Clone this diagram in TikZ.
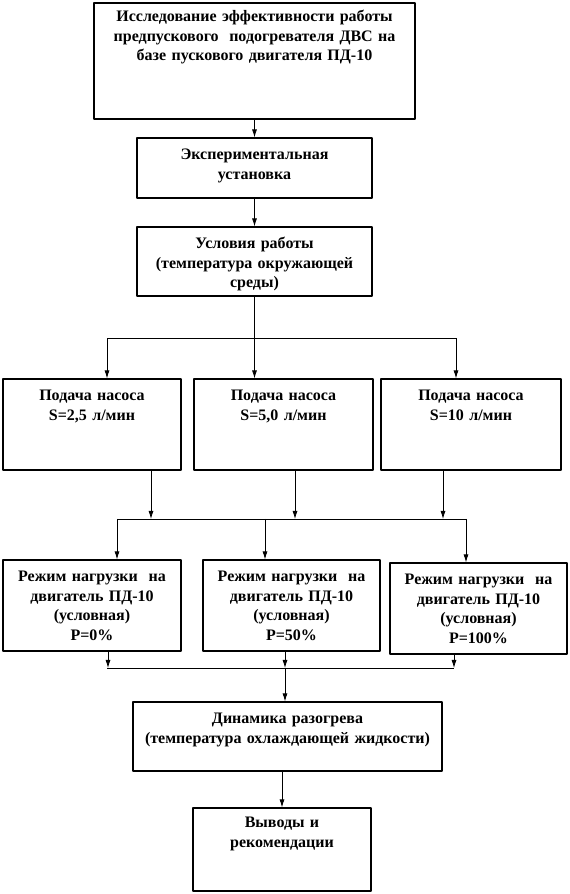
\documentclass[tikz,border=0pt]{standalone}
\usepackage{fontspec}
\setmainfont{Liberation Serif}
\usetikzlibrary{arrows.meta}
\begin{document}
\begin{tikzpicture}[>={Latex[length=8bp,width=5bp]},line join=bevel,
  box/.style={draw,line width=1.1bp,inner sep=0bp,align=center,text height=22bp,
    font=\fontsize{16bp}{19.5bp}\selectfont\bfseries},
  link/.style={black,line width=0.8bp}]
\useasboundingbox (0bp,0bp) rectangle (570bp,894bp);
%% boxes
\node (node_0) at (254.5bp,833bp) [box,text width=321bp,text height=19bp,text depth=97bp] {Исследование эффективности работы\\предпускового~ подогревателя ДВС на\\базе пускового двигателя ПД-10};
  \node (node_1) at (254.5bp,726bp) [box,text width=235bp,text depth=38bp] {Экспериментальная\\установка};
  \node (node_2) at (254.5bp,632.5bp) [box,text width=235bp,text depth=47bp] {Условия работы\\(температура окружающей\\среды)};
  \node (node_3) at (92bp,469.5bp) [box,text width=178bp,text depth=69bp] {Подача насоса\\S=2,5 л/мин};
  \node (node_4) at (283.5bp,469.5bp) [box,text width=179bp,text depth=69bp] {Подача насоса\\S=5,0 л/мин};
  \node (node_5) at (471bp,469.5bp) [box,text width=180bp,text depth=69bp] {Подача насоса\\S=10 л/мин};
  \node (node_6) at (92bp,288.5bp) [box,text width=178bp,text depth=69bp] {Режим нагрузки~ на\\двигатель ПД-10\\(условная)\\P=0\%};
  \node (node_7) at (291.5bp,288.5bp) [box,text width=177bp,text depth=69bp] {Режим нагрузки~ на\\двигатель ПД-10\\(условная)\\P=50\%};
  \node (node_8) at (478.5bp,285.5bp) [box,text width=177bp,text depth=69bp] {Режим нагрузки~ на\\двигатель ПД-10\\(условная)\\P=100\%};
  \node (node_9) at (287.5bp,157.5bp) [box,text width=309bp,text depth=47bp] {Динамика разогрева\\(температура охлаждающей жидкости)};
  \node (node_10) at (282bp,44.5bp) [box,text width=178bp,text height=20bp,text depth=63bp] {Выводы и\\рекомендации};
%% branch points
\coordinate (fork_0) at (254.5bp,555.5bp);
  \coordinate (fork_0_l) at (107bp,555.5bp);
  \coordinate (fork_0_r) at (456bp,555.5bp);
  \coordinate (join_0_a) at (151bp,375bp);
  \coordinate (join_0_b) at (295bp,375bp);
  \coordinate (join_0_c) at (443bp,375bp);
  \coordinate (fork_1_l) at (117bp,375bp);
  \coordinate (fork_1_m) at (265bp,375bp);
  \coordinate (fork_1_r) at (466bp,375bp);
  \coordinate (join_1_a) at (108bp,226bp);
  \coordinate (join_1_b) at (285bp,226bp);
  \coordinate (join_1_c) at (454bp,226bp);
  \coordinate (join_1_l) at (107bp,226bp);
%% connectors
\draw [link,->] (node_0) -- (node_1);
  \draw [link,->] (node_1) -- (node_2);
  \draw [link] (node_2) -- (fork_0);
  \draw [link] (fork_0_l) -- (fork_0_r);
  \draw [link,->] (fork_0_l) -- (fork_0_l |- node_3.north);
  \draw [link,->] (fork_0) -- (fork_0 |- node_4.north);
  \draw [link,->] (fork_0_r) -- (fork_0_r |- node_5.north);
%
  \draw [link,->] (node_3.south -| join_0_a) -- (join_0_a);
  \draw [link,->] (node_4.south -| join_0_b) -- (join_0_b);
  \draw [link,->] (node_5.south -| join_0_c) -- (join_0_c);
  \draw [link] (fork_1_l) -- (fork_1_r);
  \draw [link,->] (fork_1_l) -- (fork_1_l |- node_6.north);
  \draw [link,->] (fork_1_m) -- (fork_1_m |- node_7.north);
  \draw [link,->] (fork_1_r) -- (fork_1_r |- node_8.north);
%
  \draw [link,->] (node_6.south -| join_1_a) -- (join_1_a);
  \draw [link,->] (node_7.south -| join_1_b) -- (join_1_b);
  \draw [link,->] (node_8.south -| join_1_c) -- (join_1_c);
  \draw [link] (join_1_l) -- (join_1_c);
  \draw [link,->] (join_1_b) -- (join_1_b |- node_9.north);
  \draw [link,->] (node_9.south -| node_10.north) -- (node_10.north);
%
\end{tikzpicture}
\end{document}
